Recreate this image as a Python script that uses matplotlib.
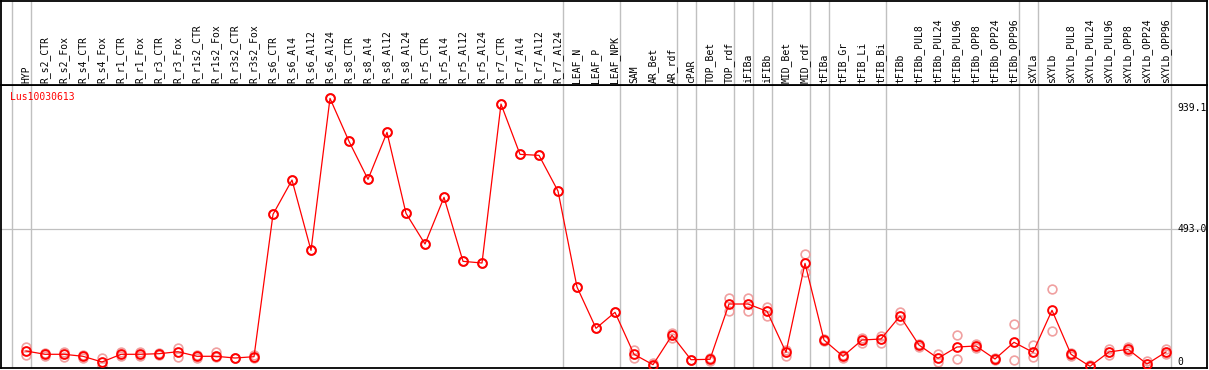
import numpy as np
import matplotlib.pyplot as plt

# categorias (columnas del grafico)
labels = ['HYP', 'R_s2_CTR', 'R_s2_Fox', 'R_s4_CTR', 'R_s4_Fox', 'R_r1_CTR', 'R_r1_Fox',
          'R_r3_CTR', 'R_r3_Fox', 'R_r1s2_CTR', 'R_r1s2_Fox', 'R_r3s2_CTR', 'R_r3s2_Fox',
          'R_s6_CTR', 'R_s6_Al4', 'R_s6_Al12', 'R_s6_Al24',
          'R_s8_CTR', 'R_s8_Al4', 'R_s8_Al12', 'R_s8_Al24',
          'R_r5_CTR', 'R_r5_Al4', 'R_r5_Al12', 'R_r5_Al24',
          'R_r7_CTR', 'R_r7_Al4', 'R_r7_Al12', 'R_r7_Al24',
          'LEAF_N', 'LEAF_P', 'LEAF_NPK', 'SAM', 'AR_Bet', 'AR_rdf', 'cPAR',
          'TOP_Bet', 'TOP_rdf', 'iFIBa', 'iFIBb', 'MID_Bet', 'MID_rdf',
          'tFIBa', 'tFIB_Gr', 'tFIB_Li', 'tFIB_Bi', 'tFIBb',
          'tFIBb_PUL8', 'tFIBb_PUL24', 'tFIBb_PUL96', 'tFIBb_OPP8', 'tFIBb_OPP24', 'tFIBb_OPP96',
          'sXYLa', 'sXYLb', 'sXYLb_PUL8', 'sXYLb_PUL24', 'sXYLb_PUL96',
          'sXYLb_OPP8', 'sXYLb_OPP24', 'sXYLb_OPP96']

# valor medio (linea roja)
media = [40.7, 28.5, 28.5, 21.1, 0.0, 28.5, 28.5, 30.7, 38.1, 21.1, 21.1, 14.8, 19.6,
         546.4, 673.3, 413.2, 975.6, 816.5, 675.9, 849.8, 550.1,
         436.6, 609.3, 372.5, 366.3, 954.5, 768.4, 764.7, 632.6,
         277.5, 124.7, 183.9, 28.5, -10.0, 98.8, 8.5, 10.0, 214.6, 214.6, 187.6,
         35.9, 365.1, 81.4, 21.1, 81.4, 85.1, 170.2,
         62.9, 13.7, 55.5, 59.2, 11.1, 72.9,
         35.9, 191.3, 28.5, -15.9, 37.0, 47.0, -7.4, 37.0]

# replicas (circulos rosas)
rep_a = [56.6, 35.1, 38.1, 25.9, 15.9, 38.1, 38.1, 35.1, 50.7, 27.7, 37.0, 14.8, 25.9,
         546.4, 673.3, 413.2, 975.6, 816.5, 675.9, 849.8, 550.1,
         436.6, 609.3, 372.5, 366.3, 954.5, 768.4, 764.7, 632.6,
         277.5, 124.7, 183.9, 44.4, -5.5, 107.3, 8.5, 14.8, 237.9, 237.9, 204.6,
         44.4, 399.6, 86.9, 25.9, 90.6, 96.2, 183.9,
         68.4, 28.5, 98.8, 66.6, 14.8, 139.5,
         62.9, 269.0, 35.1, -11.1, 48.1, 55.5, 3.7, 48.1]
rep_b = [24.8, 22.2, 17.4, 16.6, -13.7, 22.2, 22.2, 25.9, 17.4, 14.8, 19.6, 14.8, 14.8,
         546.4, 673.3, 413.2, 975.6, 816.5, 675.9, 849.8, 550.1,
         436.6, 609.3, 372.5, 366.3, 954.5, 768.4, 764.7, 632.6,
         277.5, 124.7, 183.9, 14.8, -14.8, 90.6, 8.5, 5.5, 188.7, 188.7, 171.3,
         22.2, 334.1, 77.7, 16.6, 69.2, 71.4, 154.3,
         57.3, 0.0, 10.0, 51.8, 7.4, 6.3,
         17.4, 113.6, 22.2, -20.3, 25.9, 40.7, -18.5, 29.6]

# separadores de grupos (detras de estas columnas)
grupos_fin = [-1, 0, 28, 31, 34, 35, 37, 38, 39, 41, 42, 45, 52, 53, 60]
y_ticks = [939.1, 493.0, 0]
titulo = 'Lus10030613'

W, H = 1209, 370
fig = plt.figure(figsize=(W / 100, H / 100), dpi=100)
mono = 'DejaVu Sans Mono'

x = np.arange(len(labels))
xlim = ((1 - 26) / 19, (1207 - 26) / 19)

# panel principal
ax = fig.add_axes([1 / W, 2 / H, 1206 / W, 283 / H])
ax.set_xlim(*xlim)
ax.set_ylim(-22.2, 1025)
ax.set_xticks([])
ax.set_yticks([])
for s in ax.spines.values():
    s.set_linewidth(1.3)
    s.set_color('black')

ax.axhline(493.0, color='#c0c0c0', lw=0.9, zorder=1)
for g in grupos_fin:
    ax.axvline(g + 0.26, color='#c0c0c0', lw=1.0, zorder=1)

for rep in (rep_a, rep_b):
    ax.plot(x, rep, ls='none', marker='o', ms=6.3, mfc='none', mew=1.2, color='#f0a0a0', zorder=2)

ax.plot(x, media, '-', color='red', lw=0.9, zorder=3)
ax.plot(x, media, ls='none', marker='o', ms=6.3, mfc='none', mew=1.4, color='red', zorder=4)

for v in y_ticks:
    ax.text((1177 - 26) / 19, v, str(v) if v else '0', ha='left', va='center',
            fontsize=7, family=mono, zorder=5)

fig.text(10 / W, 1 - 97 / H, titulo, color='red', fontsize=7, family=mono,
         ha='left', va='center')

# cabecera con etiquetas
axh = fig.add_axes([1 / W, 285 / H, 1206 / W, 84 / H])
axh.set_xlim(*xlim)
axh.set_ylim(0, 1)
axh.set_xticks([])
axh.set_yticks([])
for s in axh.spines.values():
    s.set_linewidth(1.3)
    s.set_color('black')
for g in grupos_fin:
    axh.axvline(g + 0.26, color='#c0c0c0', lw=1.0, zorder=1)
for i, lab in enumerate(labels):
    axh.text(i, 0.025, lab, rotation=90, ha='center', va='bottom',
             fontsize=7, family=mono, zorder=3)

plt.savefig('out.png', dpi=100)
